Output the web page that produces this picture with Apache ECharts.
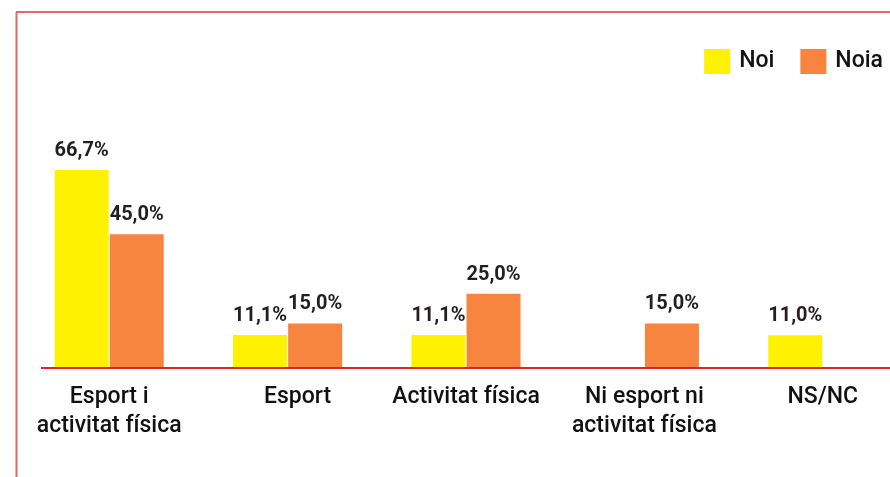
<!DOCTYPE html>
<html>
<head>
<meta charset="utf-8">
<script src="https://cdn.jsdelivr.net/npm/echarts@6/dist/echarts.min.js"></script>
<style>
  html, body { margin: 0; padding: 0; background: #fff; }
  #chart { width: 890px; height: 477px; }
</style>
</head>
<body>
<div id="chart"></div>
<script>
// dades del gràfic
const categories = ['Esport i\nactivitat física', 'Esport', 'Activitat física', 'Ni esport ni\nactivitat física', 'NS/NC'];
const seriesNames = ['Noi', 'Noia'];
const noiValues = [66.7, 11.1, 11.1, null, 11.0];
const noiaValues = [45.0, 15.0, 25.0, 15.0, null];

const chart = echarts.init(document.getElementById('chart'));

const fmt = (p) => p.value == null ? '' : p.value.toFixed(1).replace('.', ',') + '%';

const labelStyle = {
  show: true,
  position: 'top',
  distance: 9,
  formatter: fmt,
  color: '#231f20',
  fontFamily: 'Roboto',
  fontWeight: 'bold',
  fontSize: 20
};

const option = {
  animation: false,
  legend: {
    right: 2,
    top: 44,
    itemWidth: 26,
    itemHeight: 25,
    itemGap: 26,
    icon: 'rect',
    textStyle: { fontFamily: 'Roboto', fontSize: 23, fontWeight: 500, color: '#111', padding: [0, 0, 0, 4] },
    data: seriesNames
  },
  grid: { left: 20, top: 71, width: 892, height: 297, outerBoundsMode: 'none', containLabel: false },
  xAxis: {
    type: 'category',
    data: categories.map((c) => c === 'Esport'
      ? { value: c, textStyle: { padding: [0, 0, 0, 20] } }
      : c),
    axisLine: { show: false },
    axisTick: { show: false },
    axisLabel: {
      interval: 0,
      margin: 15,
      fontFamily: 'Roboto',
      fontSize: 23,
      fontWeight: 500,
      lineHeight: 29,
      color: '#111'
    }
  },
  yAxis: {
    type: 'value',
    min: 0,
    max: 100,
    show: false,
    splitLine: { show: false }
  },
  series: [
    {
      name: seriesNames[0],
      type: 'bar',
      barWidth: 54,
      barGap: '2%',
      itemStyle: { color: '#fff200' },
      label: labelStyle,
      data: noiValues
    },
    {
      name: seriesNames[1],
      type: 'bar',
      barWidth: 54,
      itemStyle: { color: '#f7843f' },
      label: labelStyle,
      data: noiaValues
    }
  ],
  graphic: [
    // marc vermell
    { type: 'line', shape: { x1: 16, y1: 12, x2: 890, y2: 12 }, style: { stroke: '#e2343b', lineWidth: 1.5 } },
    { type: 'line', shape: { x1: 16.5, y1: 12, x2: 16.5, y2: 477 }, style: { stroke: '#e06a6e', lineWidth: 2 } },
    // eix
    { type: 'line', z: 10, shape: { x1: 41, y1: 368, x2: 890, y2: 368 }, style: { stroke: '#d9252c', lineWidth: 2 } }
  ]
};

chart.setOption(option);
</script>
</body>
</html>
